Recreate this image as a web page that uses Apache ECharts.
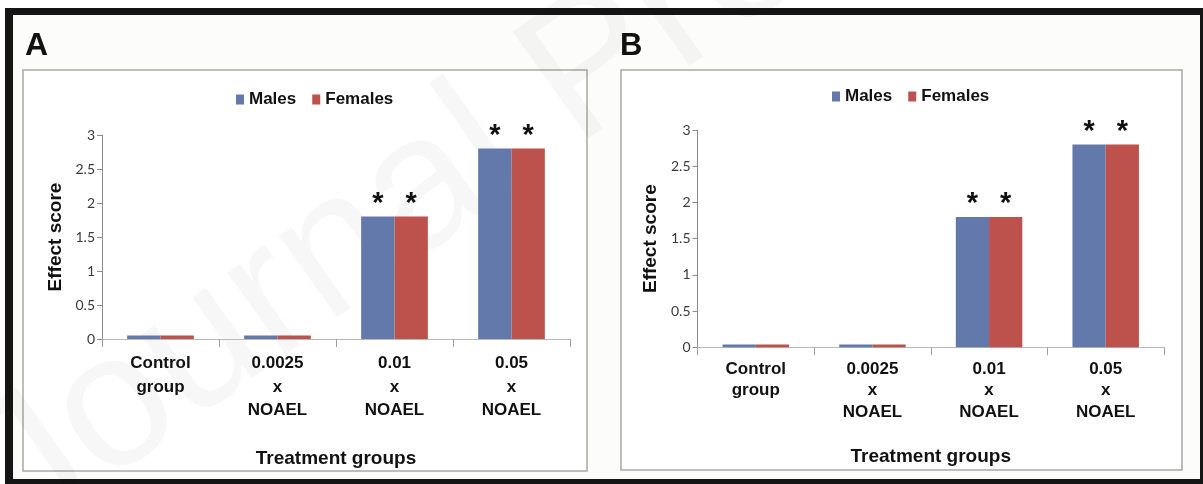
<!DOCTYPE html>
<html>
<head>
<meta charset="utf-8">
<script src="https://cdn.jsdelivr.net/npm/echarts@6/dist/echarts.min.js"></script>
<style>
  html, body { margin: 0; padding: 0; background: #fff; }
  #main { width: 1203px; height: 484px; }
</style>
</head>
<body>
<div id="main"></div>
<script>
// data
var categories = ['Control\ngroup', '0.0025\nx\nNOAEL', '0.01\nx\nNOAEL', '0.05\nx\nNOAEL'];
var malesA = [0.05, 0.05, 1.8, 2.8];
var femalesA = [0.05, 0.05, 1.8, 2.8];
var malesB = [0.04, 0.04, 1.8, 2.8];
var femalesB = [0.04, 0.04, 1.8, 2.8];
var sigMarks = ['', '', '*', '*'];
var yMin = 0, yMax = 3, yStep = 0.5;

var blue = '#6479ab';
var red = '#bd514b';
var boldFont = 'Liberation Sans';

var chart = echarts.init(document.getElementById('main'));

function xAxisFor(grid, lineH, margin, gap) {
    return {
        type: 'category',
        gridIndex: grid,
        data: categories,
        axisLine: { lineStyle: { color: '#b8b8b8', width: 1 } },
        axisTick: { show: true, length: 8, lineStyle: { color: '#a0a0a0' } },
        axisLabel: {
            interval: 0, margin: margin, color: '#111',
            fontFamily: boldFont, fontWeight: 'bold', fontSize: 17, lineHeight: lineH
        },
        name: 'Treatment groups',
        nameLocation: 'middle',
        nameGap: gap,
        nameTextStyle: { color: '#111', fontFamily: boldFont, fontWeight: 'bold', fontSize: 19 }
    };
}

function yAxisFor(grid) {
    return {
        type: 'value',
        gridIndex: grid,
        min: yMin, max: yMax, interval: yStep,
        splitLine: { show: false },
        axisLine: { show: true, lineStyle: { color: '#8c8c8c', width: 1 } },
        axisTick: { show: true, length: 5, lineStyle: { color: '#8c8c8c' } },
        axisLabel: { margin: 7, color: '#3a3a3a', fontFamily: 'Lato', fontSize: 14 },
        name: 'Effect score',
        nameLocation: 'middle',
        nameGap: 37,
        nameRotate: 90,
        nameTextStyle: { color: '#111', fontFamily: boldFont, fontWeight: 'bold', fontSize: 19 }
    };
}

function barSeries(name, grid, data, color) {
    return {
        name: name,
        type: 'bar',
        xAxisIndex: grid,
        yAxisIndex: grid,
        data: data,
        barGap: '0%',
        barCategoryGap: '43%',
        itemStyle: { color: color },
        label: {
            show: true,
            position: 'top',
            distance: -2,
            color: '#111',
            fontFamily: boldFont,
            fontWeight: 'bold',
            fontSize: 29,
            formatter: function (p) { return sigMarks[p.dataIndex]; }
        }
    };
}

function legendFor(left, top) {
    return {
        data: ['Males', 'Females'],
        left: left, top: top,
        itemWidth: 8, itemHeight: 10, itemGap: 16,
        icon: 'rect',
        textStyle: { color: '#111', fontFamily: boldFont, fontWeight: 'bold', fontSize: 17 }
    };
}

chart.setOption({
    animation: false,
    backgroundColor: '#ffffff',
    graphic: [
        // outer black frame
        { type: 'rect', z: -20, shape: { x: 5, y: 8, width: 1198, height: 476 }, style: { fill: '#151515' } },
        { type: 'rect', z: -19, shape: { x: 13, y: 15, width: 1187, height: 464 }, style: { fill: '#fcfcfb' } },
        // panel boxes
        { type: 'rect', z: -18, shape: { x: 23, y: 70, width: 564, height: 401 }, style: { fill: '#fff', stroke: '#a8a8a8', lineWidth: 1.5 } },
        { type: 'rect', z: -18, shape: { x: 621, y: 70, width: 561, height: 400 }, style: { fill: '#fff', stroke: '#a8a8a8', lineWidth: 1.5 } },
        // faint watermark
        { type: 'text', z: -15, x: -60, y: 420, rotation: 0.62,
          style: { text: 'Journal Pre-proof', fill: 'rgba(0,0,0,0.03)', font: '190px "Liberation Sans"' } },
        // panel letters
        { type: 'text', x: 25, y: 30, style: { text: 'A', fill: '#111', font: 'bold 32px "Liberation Sans"' } },
        { type: 'text', x: 620, y: 31, style: { text: 'B', fill: '#111', font: 'bold 31px "Liberation Sans"' } }
    ],
    legend: [legendFor(231, 86), legendFor(827, 83)],
    grid: [
        { left: 102, right: 633, top: 135, bottom: 145, containLabel: false, outerBoundsMode: 'none' },
        { left: 697.5, right: 39, top: 130, bottom: 136.7, containLabel: false, outerBoundsMode: 'none' }
    ],
    xAxis: [xAxisFor(0, 23.5, 13, 110), xAxisFor(1, 21.5, 11, 100)],
    yAxis: [yAxisFor(0), yAxisFor(1)],
    series: [
        barSeries('Males', 0, malesA, blue),
        barSeries('Females', 0, femalesA, red),
        barSeries('Males', 1, malesB, blue),
        barSeries('Females', 1, femalesB, red)
    ]
});
</script>
</body>
</html>
